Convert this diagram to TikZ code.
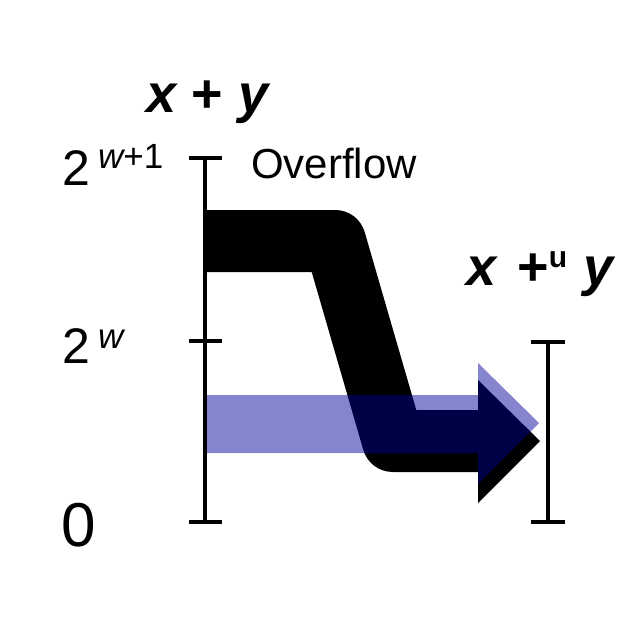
\documentclass[tikz,border=0pt]{standalone}
\usepackage{fontspec}
\setmainfont{Liberation Sans}
\begin{document}
\begin{tikzpicture}[x=1pt,y=-1pt,
  axis/.style={line width=4.5pt},
  band/.style={line width=62pt,line join=round,line cap=butt},
  bluefill/.style={fill={rgb,255:red,0;green,0;blue,150},fill opacity=0.48},
  big/.style={inner sep=0pt,anchor=base west,font=\fontsize{50}{50}\selectfont},
  sup/.style={inner sep=0pt,anchor=base west,font=\fontsize{35}{35}\selectfont},
  lbl/.style={inner sep=0pt,anchor=base west,font=\fontsize{54}{54}\selectfont\bfseries}]
\useasboundingbox (0,0) rectangle (620,622);
% coordinates
\coordinate (a0) at (205,241);
\coordinate (a1) at (335,241);
\coordinate (a2) at (393,441);
\coordinate (a3) at (478,441);
% black band
\draw[band] (a0) -- (a1) -- (a2) -- (a3);
\fill (478,380) -- (540,441) -- (478,503) -- cycle;
% blue arrow
\fill[bluefill] (205,395) -- (478,395) -- (478,363) -- (539,423) -- (478,484) -- (478,453) -- (205,453) -- cycle;
% left axis
\coordinate (lt) at (205,158);
\coordinate (lm) at (205,341);
\coordinate (lb) at (205,522);
\draw[axis] (lt) -- (lb);
\draw[axis] (189,158) -- (222,158);
\draw[axis] (189,341) -- (222,341);
\draw[axis] (189,522) -- (222,522);
% right axis
\coordinate (rt) at (548,342);
\coordinate (rb) at (548,522);
\draw[axis] (rt) -- (rb);
\draw[axis] (531,342) -- (565,342);
\draw[axis] (531,522) -- (565,522);
% labels
\node[big] (two1) at (62,185) {2};
\node[sup] (e1) at (98,168) {\itshape w\upshape+1};
\node[big] (two2) at (62,363) {2};
\node[sup] (e2) at (98,348) {\itshape w};
\node[big,font=\fontsize{62}{62}\selectfont] (zero) at (61,546) {0};
\node[inner sep=0pt,anchor=base west,font=\fontsize{42}{42}\selectfont] (ovf) at (251,178) {Overflow};
\node[lbl] (xy) at (146,112) {\itshape x\upshape\hspace{15pt}+\hspace{16pt}\itshape y};
\node[lbl] (xuy) at (466,285) {\itshape x\upshape\hspace{21pt}+\raisebox{18pt}{\fontsize{30}{30}\selectfont u}\hspace{16pt}\itshape y};
\end{tikzpicture}
\end{document}
